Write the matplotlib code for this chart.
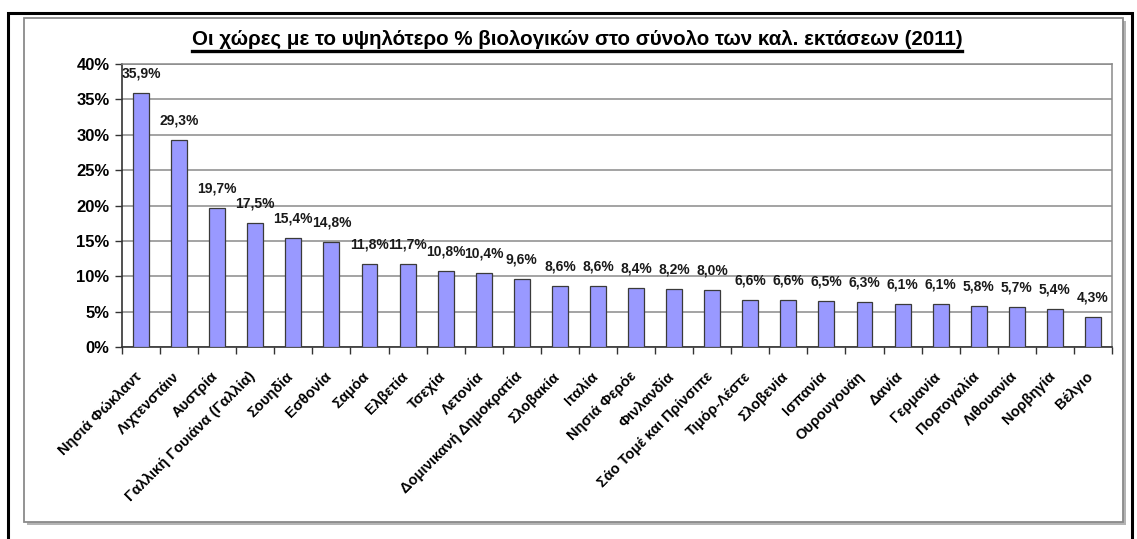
import matplotlib
matplotlib.use("Agg")
import matplotlib.pyplot as plt
from matplotlib.patches import Rectangle
from matplotlib.lines import Line2D
from matplotlib.ticker import FixedLocator, FuncFormatter
from matplotlib.transforms import ScaledTranslation
import numpy as np

W, H = 1137, 539

title = "Οι χώρες με το υψηλότερο % βιολογικών στο σύνολο των καλ. εκτάσεων (2011)"

countries = [
    "Νησιά Φώκλαντ", "Λιχτενστάιν", "Αυστρία", "Γαλλική Γουιάνα (Γαλλία)",
    "Σουηδία", "Εσθονία", "Σαμόα", "Ελβετία", "Τσεχία", "Λετονία",
    "Δομινικανή Δημοκρατία", "Σλοβακία", "Ιταλία", "Νησιά Φερόε",
    "Φινλανδία", "Σάο Τομέ και Πρίνσιπε", "Τιμόρ-Λέστε", "Σλοβενία",
    "Ισπανία", "Ουρουγουάη", "Δανία", "Γερμανία", "Πορτογαλία",
    "Λιθουανία", "Νορβηγία", "Βέλγιο",
]
share = [
    35.9, 29.3, 19.7, 17.5, 15.4, 14.8, 11.8, 11.7, 10.8, 10.4,
    9.6, 8.6, 8.6, 8.4, 8.2, 8.0, 6.6, 6.6, 6.5, 6.3,
    6.1, 6.1, 5.8, 5.7, 5.4, 4.3,
]
y_ticks = [0, 5, 10, 15, 20, 25, 30, 35, 40]

plt.rcParams['font.family'] = ['Liberation Sans', 'DejaVu Sans']
plt.rcParams['font.weight'] = 'bold'


def fx(x):
    return x / W


def fy(y):
    return 1 - y / H


fig = plt.figure(figsize=(W / 100, H / 100), dpi=100)
fig.patch.set_facecolor('white')

# outer black frame (runs off the bottom edge)
fig.patches.append(Rectangle((fx(8), fy(560)), fx(1132) - fx(8), fy(13) - fy(560),
                             transform=fig.transFigure, fill=False,
                             edgecolor='black', lw=2.2, zorder=-3))
# chart box with a soft shadow
fig.patches.append(Rectangle((fx(27), fy(525)), fx(1126) - fx(27), fy(21) - fy(525),
                             transform=fig.transFigure, facecolor='#b4b4b4',
                             edgecolor='none', zorder=-2))
fig.patches.append(Rectangle((fx(24), fy(522)), fx(1123) - fx(24), fy(18) - fy(522),
                             transform=fig.transFigure, facecolor='white',
                             edgecolor='#8a8a8a', lw=1.3, zorder=-1))

ax = fig.add_axes([fx(122), fy(347), fx(1112) - fx(122), fy(64) - fy(347)])
ax.set_facecolor('none')
ax.set_zorder(2)

x = np.arange(len(countries))
ax.bar(x, share, width=0.42, color='#9999ff', edgecolor='#3a3a3a', lw=0.9, zorder=3)

for xi, v in zip(x, share):
    ax.annotate(f"{v:.1f}%".replace('.', ','), (xi, v), xytext=(0, 9),
                textcoords='offset points', ha='center', va='bottom',
                fontsize=10, fontweight='bold', color='#1a1a1a')

ax.set_xlim(-0.5, len(countries) - 0.5)
ax.set_ylim(0, 40)
ax.yaxis.set_major_locator(FixedLocator(y_ticks))
ax.yaxis.set_major_formatter(FuncFormatter(lambda v, p: f"{v:.0f}%"))
ax.grid(axis='y', color='#8a8a8a', lw=1.1, zorder=0)
ax.set_axisbelow(True)

ax.set_xticks(x)
ax.set_xticklabels(countries, rotation=45, ha='right', va='top',
                   rotation_mode='anchor', fontsize=10.5, fontweight='bold')
ax.set_xticks(np.arange(len(countries) + 1) - 0.5, minor=True)
ax.tick_params(axis='x', which='major', length=0, pad=9)
ax.tick_params(axis='x', which='minor', length=5, width=1, color='#333333', direction='out')
ax.tick_params(axis='y', length=5, width=1, color='#333333', labelsize=12, pad=4)
for lab in ax.get_yticklabels():
    lab.set_fontweight('bold')

# nudge the slanted country names down and to the left
shift = ScaledTranslation(-0.07, -0.10, fig.dpi_scale_trans)
for lab in ax.get_xticklabels():
    lab.set_transform(lab.get_transform() + shift)

for side in ('left', 'bottom'):
    ax.spines[side].set_color('#333333')
    ax.spines[side].set_linewidth(1.2)
for side in ('top', 'right'):
    ax.spines[side].set_color('#8a8a8a')
    ax.spines[side].set_linewidth(1.1)

# title with underline
t = fig.text(fx(577), fy(39.5), title, ha='center', va='center',
             fontsize=14.8, fontweight='bold', color='black')
fig.canvas.draw()
bb = t.get_window_extent(renderer=fig.canvas.get_renderer())
fig.lines.append(Line2D([bb.x0 / W, bb.x1 / W], [fy(51), fy(51)],
                        transform=fig.transFigure, color='black', lw=2.4))

fig.savefig('out.png', dpi=100)
